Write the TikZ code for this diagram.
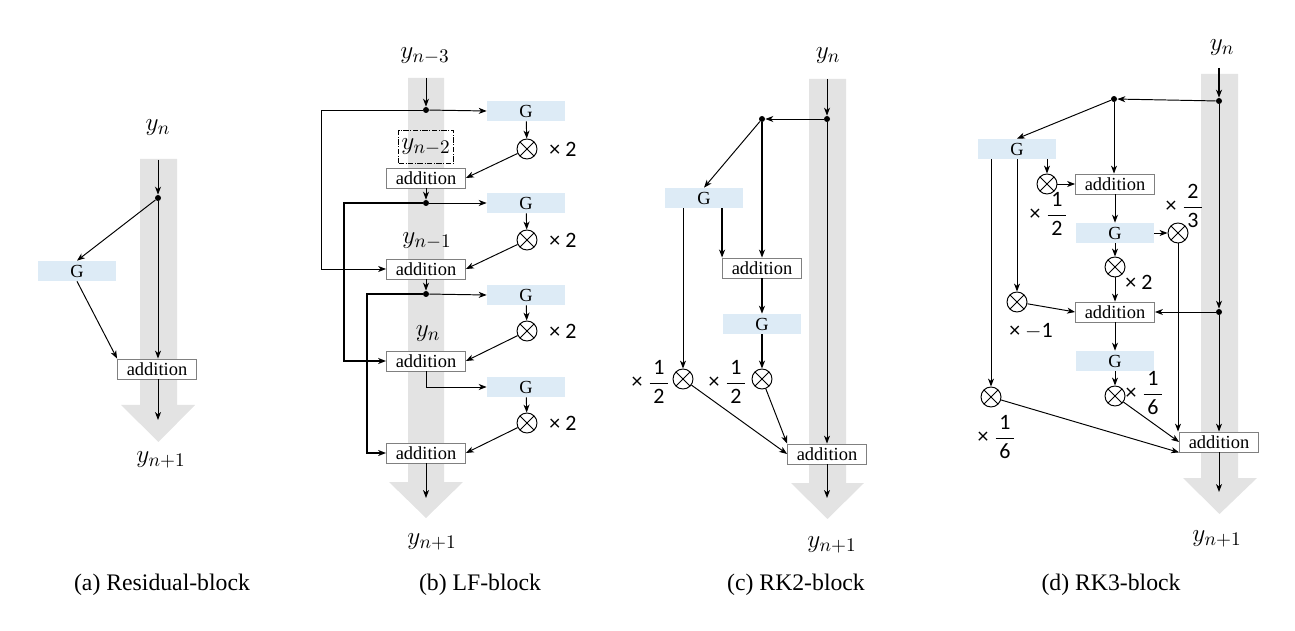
\documentclass[tikz,border=0pt]{standalone}
\usepackage{fontspec}
\setmainfont{Liberation Serif}
\newfontfamily\lblfont{Carlito}
\usetikzlibrary{arrows.meta}

\definecolor{shaftgray}{HTML}{E3E3E3}
\definecolor{gblue}{HTML}{DDEBF6}
\definecolor{boxgray}{HTML}{808080}

\newcommand{\fr}[2]{$\displaystyle\frac{\mbox{\,#1\,}}{\mbox{\,#2\,}}$}

\tikzset{
  arr/.style={-{Stealth[length=4.5pt,width=3.4pt,inset=1.3pt]}, line width=0.55pt},
  thk/.style={line width=0.9pt},
  flow/.style={fill=shaftgray, draw=none},
  gbox/.style={fill=gblue, minimum width=1.56cm, minimum height=0.4cm, inner sep=0pt, font=\fontsize{10.5}{12}\selectfont},
  addbox/.style={draw=boxgray, line width=0.5pt, fill=white, minimum width=1.58cm, minimum height=0.4cm, inner sep=0pt, font=\fontsize{10.5}{12}\selectfont},
  jdot/.style={circle, fill=black, inner sep=0pt, minimum size=0.12cm},
  mult/.style={circle, draw, line width=0.55pt, fill=white, minimum size=0.4cm, inner sep=0pt,
    path picture={\draw[line width=0.55pt] (path picture bounding box.north west) -- (path picture bounding box.south east)
      (path picture bounding box.north east) -- (path picture bounding box.south west);}},
  lbl/.style={font=\lblfont\fontsize{12.5}{14}\selectfont, inner sep=0pt},
  yl/.style={font=\fontsize{15}{17}\selectfont, inner sep=0pt},
  captxt/.style={font=\fontsize{13.5}{16}\selectfont},
}

\begin{document}
\begin{tikzpicture}[x=0.02cm, y=-0.02cm]
\useasboundingbox (0,0) rectangle (1295,631);

% gray flow arrows
\fill[flow] (140,159) -- (177,159) -- (177,405) -- (195,405) -- (158.5,442) -- (121,405) -- (140,405) -- cycle;
\fill[flow] (408,78) -- (444,78) -- (444,482) -- (463,482) -- (426,518) -- (389,482) -- (408,482) -- cycle;
\fill[flow] (809,79) -- (846,79) -- (846,483) -- (864,483) -- (827.5,519) -- (791,483) -- (809,483) -- cycle;
\fill[flow] (1201,74) -- (1238,74) -- (1238,478) -- (1257,478) -- (1219.5,514) -- (1183,478) -- (1201,478) -- cycle;

%% (a) Residual-block
\node[yl] (ayn) at (158,128) {$y_n$};
\coordinate (atop) at (158,160);
\node[jdot] (ad) at (158,198) {};
\node[gbox] (ag) at (77,271) {G};
\node[addbox] (aadd) at (157,369) {addition};
\coordinate (abot) at (158,420);
\node[yl] (ayo) at (161,460) {$y_{n+1}$};

\draw[arr] (atop) -- (ad);
\draw[arr] (ad) -- (ag.north);
\draw[arr] (ad) -- (aadd.north -| ad);
\draw[arr] (ag.south) -- (aadd.north west);
\draw[arr] (aadd.south -| ad) -- (abot);

%% (b) LF-block
\node[yl] (byn3) at (425,56) {$y_{n-3}$};
\coordinate (btop) at (426,78);
\node[jdot] (b1) at (426,110) {};
\node[gbox] (bg1) at (526,111) {G};
\node[mult] (bo1) at (527,149) {};
\node[lbl] (bl1) at (563,149) {× 2};
\node[draw, densely dash dot, line width=0.5pt, minimum width=1.1cm, minimum height=0.66cm, yl] (byn2) at (426,147) {$y_{n-2}$};
\node[addbox] (badd1) at (426,178) {addition};
\node[jdot] (b2) at (426,203) {};
\node[gbox] (bg2) at (526,203) {G};
\node[mult] (bo2) at (527,240) {};
\node[lbl] (bl2) at (563,240) {× 2};
\node[yl] (byn1) at (427,241) {$y_{n-1}$};
\node[addbox] (badd2) at (426,269) {addition};
\node[jdot] (b3) at (426,294) {};
\node[gbox] (bg3) at (526,295) {G};
\node[mult] (bo3) at (527,331) {};
\node[lbl] (bl3) at (563,331) {× 2};
\node[yl] (byn) at (428,334) {$y_n$};
\node[addbox] (badd3) at (426,361) {addition};
\node[gbox] (bg4) at (526,387) {G};
\node[mult] (bo4) at (527,423) {};
\node[lbl] (bl4) at (563,423) {× 2};
\node[addbox] (badd4) at (426,453) {addition};
\coordinate (bbot) at (426,498);
\node[yl] (byo) at (432,542) {$y_{n+1}$};

\draw[arr] (btop) -- (b1);
\draw[arr] (b1) -- (bg1.west);
\draw[arr] (b1) -- ++(-105,0) |- (badd2.west);
\draw[arr] (bg1) -- (bo1);
\draw[arr] (bo1) -- (badd1.east);
\draw[arr] (badd1) -- (b2);
\draw[arr] (b2) -- (bg2.west);
\draw[arr, thk] (b2) -- ++(-82,0) |- (badd3.west);
\draw[arr] (bg2) -- (bo2);
\draw[arr] (bo2) -- (badd2.east);
\draw[arr] (badd2) -- (b3);
\draw[arr] (b3) -- (bg3.west);
\draw[arr, thk] (b3) -- ++(-59,0) |- (badd4.west);
\draw[arr] (bg3) -- (bo3);
\draw[arr] (bo3) -- (badd3.east);
\draw[arr] (badd3.south) |- (bg4.west);
\draw[arr] (bg4) -- (bo4);
\draw[arr] (bo4) -- (badd4.east);
\draw[arr] (badd4) -- (bbot);

%% (c) RK2-block
\node[yl] (cyn) at (828,56) {$y_n$};
\coordinate (ctop) at (827,79);
\node[jdot] (c1) at (827,119) {};
\node[jdot] (c2) at (762,119) {};
\node[gbox] (cg1) at (704,198) {G};
\node[addbox] (cadd1) at (762,268) {addition};
\node[gbox] (cg2) at (762,324) {G};
\node[mult] (co1) at (683,379) {};
\node[mult] (co2) at (762,379) {};
\node[lbl] (cl1) at (651,382) {× \fr{1}{2}};
\node[lbl] (cl2) at (728,382) {× \fr{1}{2}};
\node[addbox] (cadd2) at (827,454) {addition};
\coordinate (cbot) at (827,498);
\node[yl] (cyo) at (832,545) {$y_{n+1}$};

\draw[arr] (ctop) -- (c1);
\draw[arr] (c1) -- (c2);
\draw[arr] (c2) -- (cg1.north);
\draw[arr, thk] (c2) -- (cadd1);
\draw[arr, thk] (cg1.south -| cadd1.west) -- (cadd1.north west);
\draw[arr] (cg1.south -| co1) -- (co1);
\draw[arr, thk] (cadd1) -- (cg2);
\draw[arr, thk] (cg2) -- (co2);
\draw[arr] (co1) -- (cadd2.west);
\draw[arr] (co2) -- (cadd2.north west);
\draw[arr] (c1) -- (cadd2);
\draw[arr] (cadd2) -- (cbot);

%% (d) RK3-block
\node[yl] (dyn) at (1222,48) {$y_n$};
\coordinate (dtop) at (1219,68);
\node[jdot] (d1) at (1219,101) {};
\node[jdot] (d2) at (1114,99) {};
\node[gbox] (dg1) at (1017,149) {G};
\node[mult] (do1) at (1047,184) {};
\node[addbox] (dadd1) at (1115,184) {addition};
\node[lbl] (dl1) at (1049,214) {× \fr{1}{2}};
\node[gbox] (dg2) at (1115,233) {G};
\node[mult] (do2) at (1178,233) {};
\node[lbl] (dl2) at (1185,206) {× \fr{2}{3}};
\node[mult] (do3) at (1115,267) {};
\node[lbl] (dl3) at (1139,282) {× 2};
\node[mult] (do4) at (1017,302) {};
\node[lbl] (dl4) at (1031,331) {× $-$1};
\node[addbox] (dadd2) at (1115,312) {addition};
\node[jdot] (d3) at (1219,312) {};
\node[gbox] (dg3) at (1115,361) {G};
\node[mult] (do5) at (1115,396) {};
\node[lbl] (dl5) at (1145,393) {× \fr{1}{6}};
\node[mult] (do6) at (991,397) {};
\node[lbl] (dl6) at (997,437) {× \fr{1}{6}};
\node[addbox] (dadd3) at (1219,442) {addition};
\coordinate (dbot) at (1219,492);
\node[yl] (dyo) at (1217,539) {$y_{n+1}$};

\draw[arr, thk] (dtop) -- (d1);
\draw[arr] (d1) -- (d2);
\draw[arr] (d2) -- (dg1.north);
\draw[arr] (d2) -- (dadd1.north -| d2);
\draw[arr] (dg1.south -| do1) -- (do1);
\draw[arr] (do1) -- (dadd1.west);
\draw[arr] (dadd1) -- (dg2);
\draw[arr] (dg2) -- (do2);
\draw[arr] (dg2) -- (do3);
\draw[arr] (do3) -- (dadd2);
\draw[arr] (dg1) -- (do4);
\draw[arr] (do4) -- (dadd2.west);
\draw[arr] (d1) -- (d3);
\draw[arr] (d3) -- (dadd2.east);
\draw[arr] (dadd2) -- (dg3);
\draw[arr] (dg3) -- (do5);
\draw[arr] (dg1.south -| do6) -- (do6);
\draw[arr] (do2) -- (do2 |- dadd3.north);
\draw[arr] (do5) -- (dadd3.west);
\draw[arr] (do6) -- (dadd3.south west);
\draw[arr] (d3) -- (dadd3);
\draw[arr] (dadd3) -- (dbot);

% captions
\node[captxt] (capa) at (162,585) {(a) Residual-block};
\node[captxt] (capb) at (480,585) {(b) LF-block};
\node[captxt] (capc) at (796,585) {(c) RK2-block};
\node[captxt] (capd) at (1111,585) {(d) RK3-block};
\end{tikzpicture}
\end{document}
